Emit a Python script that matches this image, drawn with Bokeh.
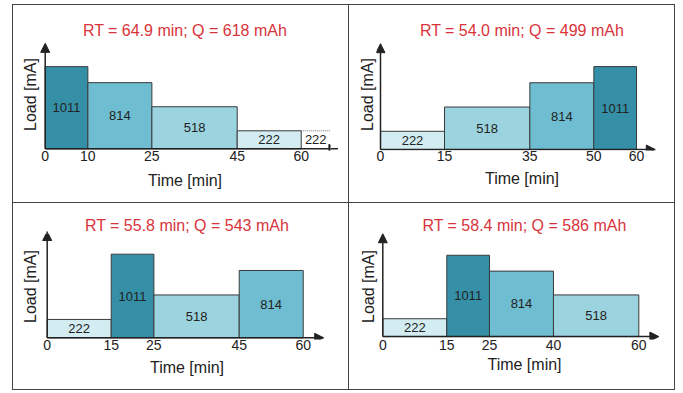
from bokeh.plotting import figure
from bokeh.models import Arrow, NormalHead, FixedTicker, Spacer, Title
from bokeh.layouts import row, column
from bokeh.core.properties import value
from bokeh.embed import file_html
from bokeh.resources import INLINE

# ---------------- data ----------------
p1_breaks = [0, 10, 25, 45, 60]
p1_loads = [1011, 814, 518, 222]
p1_rt, p1_q = 64.9, 618
p1_ext_end = 66.8          # dotted continuation of the last 222 mA step
p1_ext_load = 222

p2_breaks = [0, 15, 35, 50, 60]
p2_loads = [222, 518, 814, 1011]
p2_rt, p2_q = 54.0, 499

p3_breaks = [0, 15, 25, 45, 60]
p3_loads = [222, 1011, 518, 814]
p3_rt, p3_q = 55.8, 543

p4_breaks = [0, 15, 25, 40, 60]
p4_loads = [222, 1011, 814, 518]
p4_rt, p4_q = 58.4, 586

x_label = "Time [min]"
y_label = "Load [mA]"

# ---------------- style ----------------
FONT = "Liberation Sans"
COLORS = {1011: "#3590a7", 814: "#6ebdd0", 518: "#9bd3de", 222: "#d3ecf2"}
TITLE_RED = "#d8343b"
DARK = "#222222"
EDGE = "#3a3a3a"
GRID_LINE = "#444444"
SX = 4.267    # px per minute
SY = 0.0835   # px per mA

# per-panel pixel layout (canvas coords): origin, frame edges, axis tips, standoffs
LAYOUTS = [
    dict(w=335, h=197, ox=31.7, oy=143.3, L=26, R=317, T=30, B=145, tipx=68.6, tipy=1297, lstand=0, astand=8),
    dict(w=325, h=197, ox=31.0, oy=146.0, L=27, R=318, T=33, B=147, tipx=64.4, tipy=1290, lstand=0, astand=6),
    dict(w=335, h=186, ox=33.7, oy=134.3, L=26, R=321, T=29, B=136, tipx=64.8, tipy=1285, lstand=0, astand=6),
    dict(w=325, h=186, ox=33.3, oy=137.0, L=28, R=322, T=30, B=140, tipx=64.7, tipy=1278, lstand=0, astand=3),
]


def panel(breaks, loads, rt, q, lay, ext=None):
    x_start = (lay["L"] - lay["ox"]) / SX
    x_end = (lay["R"] - lay["ox"]) / SX
    y_end = (lay["oy"] - lay["T"]) / SY
    y_start = (lay["oy"] - lay["B"]) / SY
    p = figure(width=lay["w"], height=lay["h"], x_range=(x_start, x_end), y_range=(y_start, y_end),
               output_backend="svg", toolbar_location=None, tools="",
               min_border_left=lay["L"], min_border_right=lay["w"] - lay["R"],
               min_border_top=lay["T"], min_border_bottom=lay["h"] - lay["B"])
    p.title = Title(text=f"RT = {rt:.1f} min; Q = {q} mAh", align="center",
                    text_font=FONT, text_font_size="16px", text_font_style="normal",
                    text_color=TITLE_RED, standoff=0)
    p.outline_line_color = None
    p.background_fill_color = "white"
    p.border_fill_color = "white"
    p.xgrid.visible = False
    p.ygrid.visible = False

    # x axis
    xa = p.xaxis[0]
    xa.ticker = FixedTicker(ticks=breaks)
    xa.axis_line_color = None
    xa.major_tick_line_color = None
    xa.minor_tick_line_color = None
    xa.major_tick_out = 0
    xa.major_tick_in = 0
    xa.major_label_standoff = lay["lstand"]
    xa.major_label_text_font = FONT
    xa.major_label_text_font_size = "14px"
    xa.major_label_text_color = DARK
    xa.axis_label = x_label
    xa.axis_label_text_font = FONT
    xa.axis_label_text_font_size = "16px"
    xa.axis_label_text_font_style = "normal"
    xa.axis_label_text_color = DARK
    xa.axis_label_standoff = lay["astand"]

    # y axis
    ya = p.yaxis[0]
    ya.ticker = FixedTicker(ticks=[])
    ya.axis_line_color = None
    ya.major_tick_line_color = None
    ya.minor_tick_line_color = None
    ya.major_tick_out = 0
    ya.major_tick_in = 0
    ya.major_label_standoff = 0
    ya.major_label_text_font_size = "0px"
    ya.axis_label = y_label
    ya.axis_label_text_font = FONT
    ya.axis_label_text_font_size = "16px"
    ya.axis_label_text_font_style = "normal"
    ya.axis_label_text_color = DARK
    ya.axis_label_standoff = 1

    left = breaks[:-1]
    right = breaks[1:]
    mids = [(a + b) / 2 for a, b in zip(left, right)]
    halves = [v / 2 for v in loads]
    labels = [str(v) for v in loads]
    fills = [COLORS[v] for v in loads]

    p.quad(left=left, right=right, bottom=[0] * len(loads), top=loads,
           fill_color=fills, line_color=EDGE, line_width=1)
    p.text(x=mids, y=halves, text=labels, text_align="center", text_baseline="middle",
           text_font=value(FONT), text_font_size="13px", text_color=DARK)

    if ext is not None:
        x0, x1, v = ext
        p.segment(x0=[x0], y0=[v], x1=[x1], y1=[v], line_color="#777777",
                  line_width=1, line_dash="1 1")
        p.text(x=[(x0 + x1) / 2], y=[v / 2], text=[str(v)], text_align="center",
               text_baseline="middle", text_font=value(FONT), text_font_size="13px",
               text_color=DARK)

    # arrowed axes
    p.add_layout(Arrow(x_start=0, y_start=0, x_end=lay["tipx"], y_end=0,
                       line_color=DARK, line_width=1.5,
                       end=NormalHead(size=9, fill_color=DARK, line_color=DARK, line_width=1)))
    p.add_layout(Arrow(x_start=0, y_start=0, x_end=0, y_end=lay["tipy"],
                       line_color=DARK, line_width=1.5,
                       end=NormalHead(size=9, fill_color=DARK, line_color=DARK, line_width=1)))
    return p


f1 = panel(p1_breaks, p1_loads, p1_rt, p1_q, LAYOUTS[0], ext=(p1_breaks[-1], p1_ext_end, p1_ext_load))
f2 = panel(p2_breaks, p2_loads, p2_rt, p2_q, LAYOUTS[1])
f3 = panel(p3_breaks, p3_loads, p3_rt, p3_q, LAYOUTS[2])
f4 = panel(p4_breaks, p4_loads, p4_rt, p4_q, LAYOUTS[3])


def vline(h):
    return Spacer(width=1, height=h, styles={"background-color": GRID_LINE})


def hline(w):
    return Spacer(width=w, height=1, styles={"background-color": GRID_LINE})


total_w = 1 + LAYOUTS[0]["w"] + 1 + LAYOUTS[1]["w"] + 1
top_row = row(vline(LAYOUTS[0]["h"]), f1, vline(LAYOUTS[0]["h"]), f2, vline(LAYOUTS[0]["h"]))
bot_row = row(vline(LAYOUTS[2]["h"]), f3, vline(LAYOUTS[2]["h"]), f4, vline(LAYOUTS[2]["h"]))
grid = column(Spacer(width=total_w, height=4), hline(total_w), top_row, hline(total_w), bot_row, hline(total_w))
layout = row(Spacer(width=12, height=10), grid)

open("out.html", "w").write(file_html(layout, INLINE))
